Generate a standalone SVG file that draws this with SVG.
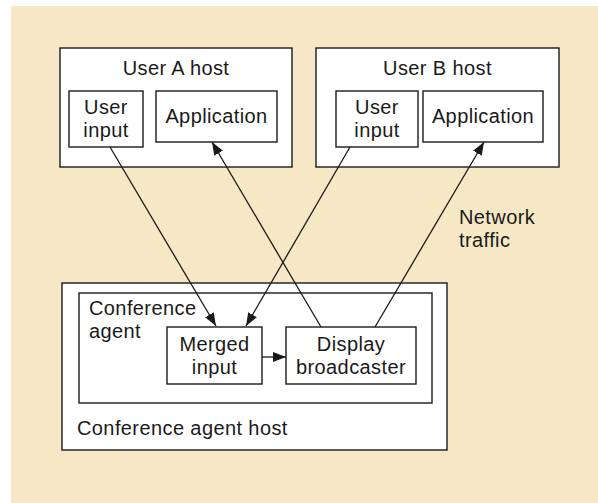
<svg xmlns="http://www.w3.org/2000/svg" width="598" height="503" viewBox="0 0 598 503">
  <style>
    .box { fill: #ffffff; stroke: #1a1a1a; stroke-width: 1.4; }
    .lbl { font-family: "Liberation Sans", Arial, sans-serif; font-size: 20px; letter-spacing: 0.4px; fill: #1a1a1a; }
    .mid { text-anchor: middle; }
    .wire { stroke: #1a1a1a; stroke-width: 1.3; fill: none; }
  </style>
  <defs>
    <marker id="arrow" markerUnits="userSpaceOnUse" markerWidth="13" markerHeight="10" refX="13" refY="5" orient="auto">
      <path d="M0,0 L13,5 L0,10 z" fill="#1a1a1a"/>
    </marker>
  </defs>

  <!-- panel background -->
  <rect x="11" y="6" width="587" height="497" fill="#f6e8c5"/>

  <!-- User A host -->
  <g id="user-a-host">
    <rect class="box" x="60" y="48" width="232" height="119"/>
    <text class="lbl mid" x="176" y="75">User A host</text>
    <g id="user-a-input">
      <rect class="box" x="69" y="91" width="74" height="56"/>
      <text class="lbl mid" x="106" y="114">User</text>
      <text class="lbl mid" x="106" y="137">input</text>
    </g>
    <g id="user-a-app">
      <rect class="box" x="156" y="91" width="121" height="51"/>
      <text class="lbl mid" x="216.5" y="123">Application</text>
    </g>
  </g>

  <!-- User B host -->
  <g id="user-b-host">
    <rect class="box" x="316" y="48" width="243" height="119"/>
    <text class="lbl mid" x="437.5" y="75">User B host</text>
    <g id="user-b-input">
      <rect class="box" x="336" y="91" width="82" height="56"/>
      <text class="lbl mid" x="377" y="114">User</text>
      <text class="lbl mid" x="377" y="137">input</text>
    </g>
    <g id="user-b-app">
      <rect class="box" x="423" y="91" width="120" height="51"/>
      <text class="lbl mid" x="483" y="123">Application</text>
    </g>
  </g>

  <!-- Conference agent host -->
  <g id="conference-agent-host">
    <rect class="box" x="62" y="283" width="385" height="167"/>
    <text class="lbl" x="77" y="435">Conference agent host</text>
    <g id="conference-agent">
      <rect class="box" x="79" y="293" width="353" height="110"/>
      <text class="lbl" x="89" y="315">Conference</text>
      <text class="lbl" x="89" y="338">agent</text>
    </g>
    <g id="merged-input">
      <rect class="box" x="167" y="327" width="95" height="57"/>
      <text class="lbl mid" x="214.5" y="351">Merged</text>
      <text class="lbl mid" x="214.5" y="374">input</text>
    </g>
    <g id="display-broadcaster">
      <rect class="box" x="286" y="327" width="130" height="57"/>
      <text class="lbl mid" x="351" y="351">Display</text>
      <text class="lbl mid" x="351" y="374">broadcaster</text>
    </g>
  </g>

  <!-- Network traffic label -->
  <g id="network-traffic-label">
    <text class="lbl" x="459" y="224">Network</text>
    <text class="lbl" x="459" y="247">traffic</text>
  </g>

  <!-- connectors -->
  <g id="connectors">
    <line class="wire" x1="110" y1="147" x2="216" y2="326" marker-end="url(#arrow)"/>
    <line class="wire" x1="350" y1="147" x2="246" y2="326" marker-end="url(#arrow)"/>
    <line class="wire" x1="321" y1="327" x2="212" y2="142" marker-end="url(#arrow)"/>
    <line class="wire" x1="375" y1="327" x2="484" y2="142" marker-end="url(#arrow)"/>
    <line class="wire" x1="262" y1="357" x2="286" y2="357" marker-end="url(#arrow)"/>
  </g>
</svg>
